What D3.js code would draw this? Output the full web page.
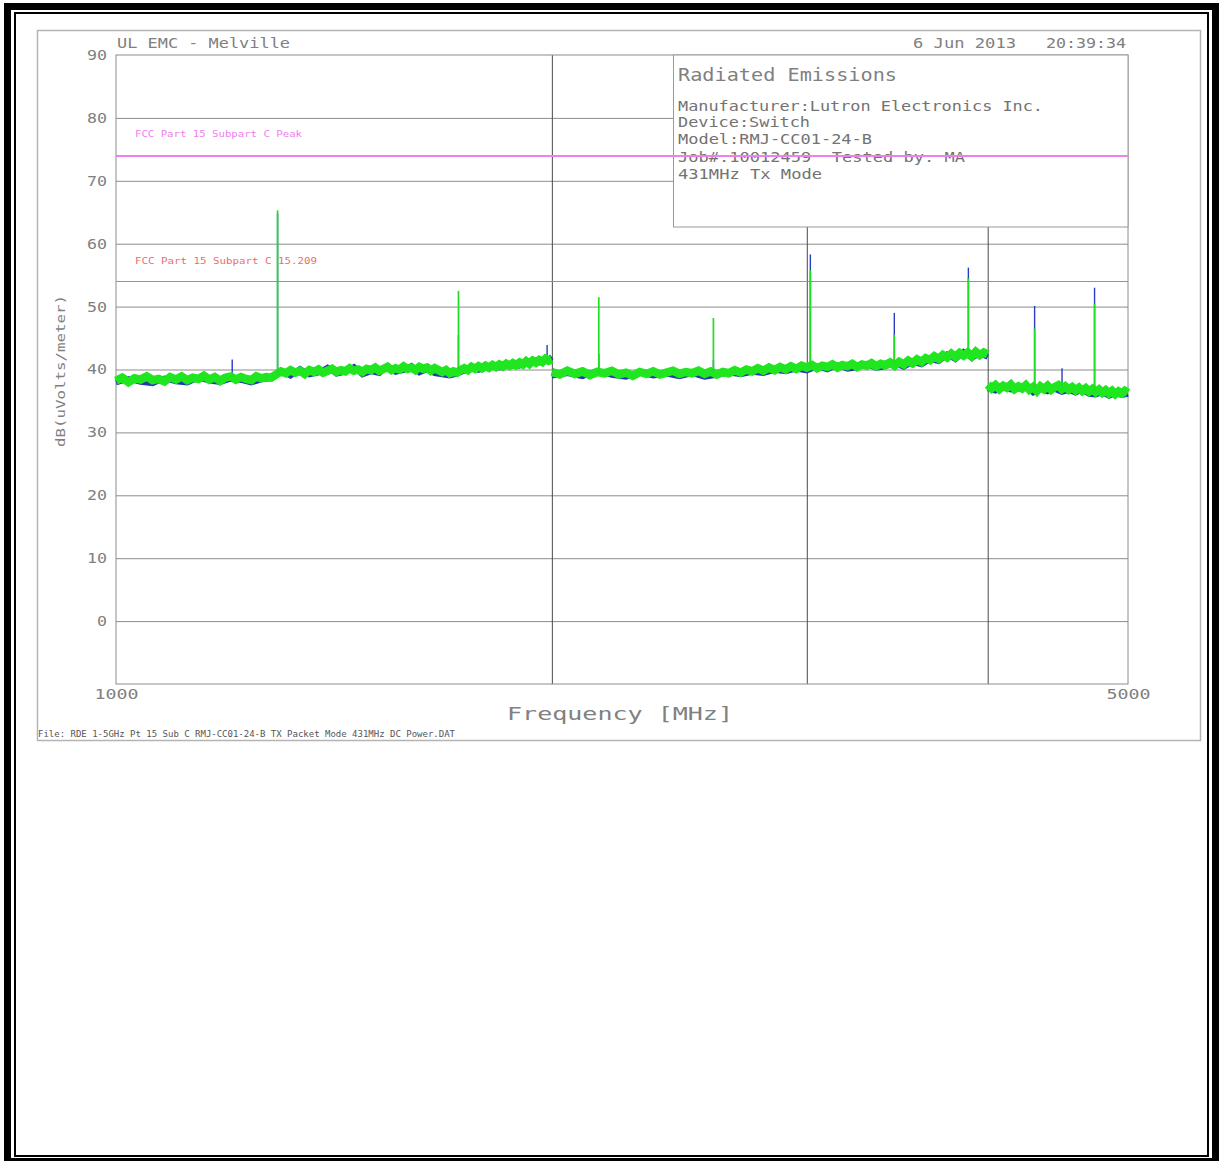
<!DOCTYPE html>
<html>
<head>
<meta charset="utf-8">
<script src="https://cdn.jsdelivr.net/npm/d3@7"></script>
<style>
  body { margin: 0; background: #fff; }
  svg { display: block; }
  text { font-family: "DejaVu Sans Mono", "Liberation Mono", monospace; white-space: pre; }
</style>
</head>
<body>
<script>
// sweep segments (antenna bands), MHz
var segStart = [1000, 2000, 4000];
var segStop = [2000, 4000, 5000];

// noise floor readings, dB(uV/m), evenly spaced over each segment
var greenSeg1 = [38.2, 38.7, 38.0, 38.6, 38.4, 38.9, 38.3, 38.5, 38.1, 38.8,
  38.4, 38.9, 38.3, 38.7, 38.5, 39.0, 38.4, 38.8, 38.2, 38.7,
  38.9, 38.4, 38.8, 38.5, 38.3, 38.9, 38.6, 38.8, 38.7, 39.2,
  39.7, 39.4, 39.9, 39.5, 39.8, 39.3, 39.9, 39.6, 40.0, 39.5,
  39.8, 40.1, 39.6, 39.9, 39.7, 40.2, 39.8, 40.0, 39.6, 40.1,
  39.9, 40.3, 39.8, 40.1, 40.4, 39.9, 40.2, 40.0, 40.5, 40.1,
  40.3, 39.9, 40.4, 40.1, 40.3, 39.8, 40.2, 39.9, 39.6, 39.9,
  39.4, 39.7, 39.5, 39.9, 40.2, 39.9, 40.4, 40.1, 40.5, 40.2,
  40.6, 40.3, 40.7, 40.4, 40.8, 40.5, 40.9, 40.6, 41.0, 40.7,
  41.1, 40.8, 41.3, 40.9, 41.4, 41.1, 41.5, 41.2, 41.7, 41.4, 41.6];
var blueSeg1 = [37.9, 38.5, 38.0, 37.8, 38.6, 38.1, 37.9, 38.7, 38.2, 38.0,
  38.5, 38.3, 37.9, 38.4, 38.6, 39.8, 39.0, 40.1, 39.2, 39.5,
  40.3, 39.3, 39.6, 40.4, 39.2, 39.7, 39.4, 40.6, 39.6, 39.9,
  40.6, 39.5, 40.0, 39.4, 39.2, 39.0, 39.3, 39.8, 40.6, 39.9,
  40.2, 40.9, 40.3, 40.5, 41.2, 40.6, 41.0, 41.6, 41.1, 41.3, 42.0];
var greenSeg2 = [39.6, 39.2, 39.8, 39.3, 39.7, 39.1, 39.6, 39.4, 39.8, 39.2,
  39.5, 39.0, 39.6, 39.3, 39.7, 39.2, 39.5, 39.8, 39.3, 39.6,
  39.4, 39.8, 39.3, 39.7, 39.2, 39.6, 39.4, 39.9, 39.5, 40.0,
  39.7, 40.2, 39.8, 40.3, 39.9, 40.4, 40.0, 40.5, 40.1, 40.6,
  40.3, 40.7, 40.2, 40.6, 40.4, 40.8, 40.3, 40.7, 40.5, 40.9,
  40.4, 40.8, 40.6, 41.0, 40.5, 40.9, 40.7, 41.1, 40.6, 41.2,
  40.8, 41.4, 41.0, 41.6, 41.2, 41.8, 41.5, 42.1, 41.7, 42.3,
  41.9, 42.5, 42.0, 42.6, 42.2, 42.7, 42.1, 42.8, 42.3, 42.7, 42.4];
var blueSeg2 = [39.0, 39.4, 38.9, 39.8, 39.1, 38.8, 39.5, 39.0, 39.3, 38.9,
  39.4, 38.8, 39.1, 39.5, 39.2, 39.6, 39.4, 39.9, 39.7, 40.1,
  39.8, 40.5, 40.0, 40.7, 40.1, 40.3, 40.9, 40.2, 40.5, 41.0,
  40.4, 41.2, 40.8, 41.6, 41.3, 42.4, 41.6, 42.8, 41.8, 42.6, 42.0];
var greenSeg3 = [37.6, 37.0, 37.5, 36.9, 37.4, 37.1, 37.6, 36.9, 37.3, 37.0,
  37.5, 36.8, 37.2, 36.6, 37.3, 36.9, 37.4, 36.8, 37.2, 37.5,
  36.9, 37.3, 36.8, 37.2, 36.7, 37.1, 36.6, 37.0, 36.5, 36.9,
  36.4, 36.8, 36.3, 36.7, 36.2, 36.6, 36.1, 36.5, 36.2, 36.6, 36.3];
var blueSeg3 = [37.0, 36.6, 37.2, 36.8, 36.9, 37.3, 36.3, 36.9, 36.5, 36.9,
  36.4, 36.7, 36.3, 36.8, 36.1, 36.0, 36.4, 35.8, 36.2, 35.9, 36.1];

// harmonics / spurs
var spikeFreq = [1203, 1293, 1724, 1985, 2155, 2586, 3017, 3448, 3879, 4310, 4502, 4741];
var spikeBase = [38.8, 39.0, 39.7, 41.4, 39.5, 39.5, 40.4, 40.8, 42.5, 37.2, 37.2, 36.5];
var spikeGreen = [39.5, 65.3, 52.5, 42.0, 51.5, 48.2, 55.8, 45.5, 54.5, 46.5, 38.0, 50.5];
var spikeBlue = [41.6, 64.8, 45.5, 43.9, 42.5, 41.5, 58.3, 49.0, 56.2, 50.1, 40.2, 53.0];

var limitValues = [74, 54];
var limitLabels = ["FCC Part 15 Subpart C Peak", "FCC Part 15 Subpart C 15.209"];
var limitColors = ["#ee80ee", "#ee6c6c"];

var yTicks = [0, 10, 20, 30, 40, 50, 60, 70, 80, 90];
var yGrid = [0, 10, 20, 30, 40, 50, 60, 70, 80];
var xLabels = [1000, 5000];
var xGrid = [2000, 3000, 4000];

var infoLines = ["Manufacturer:Lutron Electronics Inc.", "Device:Switch", "Model:RMJ-CC01-24-B",
  "Job#:10012459  Tested by: MA", "431MHz Tx Mode"];

var width = 1223, height = 1161;
var plotL = 116, plotR = 1128, plotT = 55, plotB = 684;

var svg = d3.select("body").append("svg")
  .attr("width", width)
  .attr("height", height);

svg.append("rect").attr("width", width).attr("height", height).attr("fill", "#fff");

// page frame (double border)
svg.append("rect").attr("x", 7.5).attr("y", 6.5).attr("width", 1208).attr("height", 1155)
  .attr("fill", "none").attr("stroke", "#000").attr("stroke-width", 7);
svg.append("rect").attr("x", 15).attr("y", 13).attr("width", 1193).attr("height", 1143)
  .attr("fill", "none").attr("stroke", "#000").attr("stroke-width", 2);

// chart image frame
svg.append("rect").attr("x", 37.5).attr("y", 30.5).attr("width", 1163).attr("height", 710)
  .attr("fill", "#fff").attr("stroke", "#b4b4b4").attr("stroke-width", 1.5);

var x = d3.scaleLog().domain([1000, 5000]).range([plotL, plotR]);
var y = d3.scaleLinear().domain([-10, 90]).range([plotB, plotT]);

function label(px, py, str, size, len, color) {
  return svg.append("text")
    .attr("x", px).attr("y", py)
    .attr("font-size", size)
    .attr("textLength", len)
    .attr("lengthAdjust", "spacingAndGlyphs")
    .style("fill", color || "#777")
    .text(str);
}

// grid
var gy = svg.append("g").attr("transform", "translate(" + plotL + ",0)")
  .call(d3.axisLeft(y).tickValues(yGrid).tickSize(-(plotR - plotL)).tickFormat(""));
gy.select(".domain").remove();
gy.selectAll("line").attr("stroke", "#8c8c8c");

var gx = svg.append("g").attr("transform", "translate(0," + plotB + ")")
  .call(d3.axisBottom(x).tickValues(xGrid).tickSize(-(plotB - plotT)).tickFormat(""));
gx.select(".domain").remove();
gx.selectAll("line").attr("stroke", "#4a4a4a");

svg.append("rect").attr("x", plotL).attr("y", plotT)
  .attr("width", plotR - plotL).attr("height", plotB - plotT)
  .attr("fill", "none").attr("stroke", "#8c8c8c");

// tick labels
var ay = svg.append("g").attr("transform", "translate(" + plotL + ",0)")
  .call(d3.axisLeft(y).tickValues(yTicks).tickSize(0).tickPadding(9));
ay.select(".domain").remove();
ay.selectAll("text").attr("font-size", 14).style("fill", "#808080")
  .style("font-family", "DejaVu Sans Mono")
  .attr("textLength", function(d) { return String(d).length * 10; })
  .attr("lengthAdjust", "spacingAndGlyphs");

var ax = svg.append("g").attr("transform", "translate(0," + plotB + ")")
  .call(d3.axisBottom(x).tickValues(xLabels).tickFormat(d3.format("d")).tickSize(0).tickPadding(5));
ax.select(".domain").remove();
ax.selectAll("text").attr("font-size", 14).style("fill", "#808080")
  .style("font-family", "DejaVu Sans Mono")
  .attr("textLength", 44).attr("lengthAdjust", "spacingAndGlyphs");

// info box
svg.append("rect").attr("x", 673.5).attr("y", plotT)
  .attr("width", plotR - 673.5).attr("height", 172)
  .attr("fill", "#fff").attr("stroke", "#9a9a9a");
label(678, 81, "Radiated Emissions", 17, 219, "#808080");
var infoLen = [365, 132, 194, 287, 144];
var infoY = [111, 127, 144, 162, 179];
infoLines.forEach(function(s, i) { label(678, infoY[i], s, 14, infoLen[i], "#737373"); });

// limit lines
var limitLabelY = [137, 264];
var limitLabelLen = [167, 182];
limitValues.forEach(function(v, i) {
  svg.append("line")
    .attr("x1", x(1000)).attr("x2", x(5000))
    .attr("y1", y(v)).attr("y2", y(v))
    .attr("shape-rendering", "crispEdges")
    .attr("stroke", limitColors[i]).attr("stroke-width", i === 0 ? 2 : 1);
  label(135, limitLabelY[i], limitLabels[i], 8, limitLabelLen[i], limitColors[i]);
});

// traces
function sweep(vals, i) {
  var step = (segStop[i] - segStart[i]) / (vals.length - 1);
  return vals.map(function(v, k) { return [segStart[i] + k * step, v]; });
}

var line = d3.line()
  .x(function(d) { return x(d[0]); })
  .y(function(d) { return y(d[1]); });

var blueSegs = [blueSeg1, blueSeg2, blueSeg3];
var greenSegs = [greenSeg1, greenSeg2, greenSeg3];

blueSegs.forEach(function(s, i) {
  svg.append("path").datum(sweep(s, i)).attr("d", line)
    .attr("fill", "none").attr("stroke", "#2436b8").attr("stroke-width", 5.5)
    .attr("stroke-linejoin", "miter").attr("stroke-miterlimit", 3);
});

svg.selectAll(".spike-blue").data(spikeFreq).enter().append("line")
  .attr("class", "spike-blue")
  .attr("x1", function(d) { return x(d); }).attr("x2", function(d) { return x(d); })
  .attr("y1", function(d, i) { return y(spikeBase[i]); })
  .attr("y2", function(d, i) { return y(spikeBlue[i]); })
  .attr("stroke", "#2a3cc4").attr("stroke-width", 1.4);

greenSegs.forEach(function(s, i) {
  svg.append("path").datum(sweep(s, i)).attr("d", line)
    .attr("fill", "none").attr("stroke", "#1fe61f").attr("stroke-width", 8.5)
    .attr("stroke-linejoin", "miter").attr("stroke-miterlimit", 3);
});

svg.selectAll(".spike-green").data(spikeFreq).enter().append("line")
  .attr("class", "spike-green")
  .attr("x1", function(d) { return x(d); }).attr("x2", function(d) { return x(d); })
  .attr("y1", function(d, i) { return y(spikeBase[i]); })
  .attr("y2", function(d, i) { return y(spikeGreen[i]); })
  .attr("stroke", "#22dd22").attr("stroke-width", 1.7);

// header / titles
label(117, 48, "UL EMC - Melville", 14, 173, "#808080");
label(913, 48, "6 Jun 2013", 14, 103, "#808080");
label(1046, 48, "20:39:34", 14, 80, "#808080");
label(507, 720, "Frequency [MHz]", 18, 226, "#808080");
label(38, 737, "File: RDE 1-5GHz Pt 15 Sub C RMJ-CC01-24-B TX Packet Mode 431MHz DC Power.DAT", 8, 417, "#555");
svg.append("text")
  .attr("transform", "translate(65,371) rotate(-90)")
  .attr("text-anchor", "middle")
  .attr("font-size", 12)
  .attr("textLength", 152)
  .attr("lengthAdjust", "spacingAndGlyphs")
  .style("fill", "#808080")
  .text("dB(uVolts/meter)");
</script>
</body>
</html>
